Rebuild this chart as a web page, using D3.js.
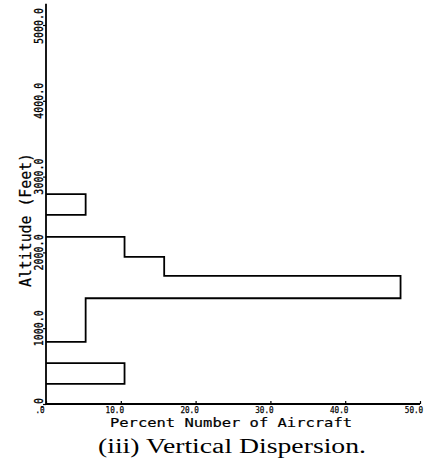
<!DOCTYPE html>
<html>
<head>
<meta charset="utf-8">
<script src="https://cdn.jsdelivr.net/npm/d3@7"></script>
<style>
  html, body { margin: 0; padding: 0; background: #fff; }
  svg { display: block; }
</style>
</head>
<body>
<script>
// ---- data ----
const binLow   = [265, 820, 1110, 1395, 1690, 1940, 2495];   // altitude, feet
const binHigh  = [540, 1110, 1395, 1690, 1940, 2205, 2770];
const percent  = [10.5, 5.3, 5.3, 47.4, 15.8, 10.5, 5.3];     // percent number of aircraft
const xTicks   = [0, 10, 20, 30, 40, 50];
const xTickLabels = [".0", "10.0", "20.0", "30.0", "40.0", "50.0"];
const yTicks   = [0, 1000, 2000, 3000, 4000, 5000];
const yTickLabels = [".0", "1000.0", "2000.0", "3000.0", "4000.0", "5000.0"];
const xTitle = "Percent Number of Aircraft";
const yTitle = "Altitude  (Feet)";
const caption = "(iii)  Vertical Dispersion.";

const W = 445, H = 471;
const svg = d3.select("body").append("svg").attr("width", W).attr("height", H);

const x = d3.scaleLinear().domain([0, 50]).range([46, 420]);
const y = d3.scaleLinear().domain([0, 5000]).range([404, 25]);

const plotFont = "'DejaVu Sans Mono', 'Liberation Mono', monospace";

// axes lines
svg.append("line")
  .attr("x1", x(0)).attr("x2", x(0))
  .attr("y1", y(0)).attr("y2", y(5280))
  .attr("stroke", "#000").attr("stroke-width", 1.8);
svg.append("line")
  .attr("x1", x(0)).attr("x2", x(50))
  .attr("y1", y(0)).attr("y2", y(0))
  .attr("stroke", "#000").attr("stroke-width", 1.8);

// x ticks
const xAxis = d3.axisBottom(x).tickValues(xTicks).tickSize(-3).tickFormat(() => "");
svg.append("g").attr("transform", `translate(0,${y(0)})`).call(xAxis)
  .call(g => g.select(".domain").remove())
  .call(g => g.selectAll("line").attr("stroke", "#000").attr("stroke-width", 1.2));

svg.selectAll(".xlab").data(xTicks).enter().append("text")
  .attr("class", "xlab")
  .attr("x", d => x(d) - 6)
  .attr("y", 412.5)
  .attr("text-anchor", "middle")
  .attr("font-family", plotFont)
  .attr("font-size", 9.5)
  .attr("stroke", "#000").attr("stroke-width", 0.25)
  .attr("textLength", (d, i) => xTickLabels[i].length * 4.6)
  .attr("lengthAdjust", "spacingAndGlyphs")
  .text((d, i) => xTickLabels[i]);

// y ticks
const yAxis = d3.axisLeft(y).tickValues(yTicks).tickSize(3).tickFormat(() => "");
svg.append("g").attr("transform", `translate(${x(0)},0)`).call(yAxis)
  .call(g => g.select(".domain").remove())
  .call(g => g.selectAll("line").attr("stroke", "#000").attr("stroke-width", 1.2));

svg.selectAll(".ylab").data(yTicks).enter().append("text")
  .attr("class", "ylab")
  .attr("transform", d => `translate(43,${Math.max(y(d), 26)}) rotate(-90) scale(1,1.3)`)
  .attr("text-anchor", "middle")
  .attr("font-family", plotFont)
  .attr("font-size", 10)
  .attr("stroke", "#000").attr("stroke-width", 0.25)
  .text((d, i) => yTickLabels[i]);

// histogram outline: group contiguous bins
const groups = [];
binLow.forEach((lo, i) => {
  const last = groups[groups.length - 1];
  if (last && binHigh[last[last.length - 1]] === lo) last.push(i);
  else groups.push([i]);
});
const line = d3.line().x(d => x(d[0])).y(d => y(d[1]));
groups.forEach(g => {
  const pts = [[0, binLow[g[0]]]];
  g.forEach(i => {
    pts.push([percent[i], binLow[i]]);
    pts.push([percent[i], binHigh[i]]);
  });
  pts.push([0, binHigh[g[g.length - 1]]]);
  svg.append("path")
    .attr("d", line(pts))
    .attr("fill", "none")
    .attr("stroke", "#000")
    .attr("stroke-width", 1.8)
    .attr("stroke-linejoin", "miter");
});

// titles
svg.append("text")
  .attr("x", 231).attr("y", 426.5)
  .attr("text-anchor", "middle")
  .attr("font-family", plotFont)
  .attr("font-size", 13)
  .attr("stroke", "#000").attr("stroke-width", 0.2)
  .attr("textLength", 242)
  .attr("lengthAdjust", "spacingAndGlyphs")
  .text(xTitle);

svg.append("text")
  .attr("transform", `translate(31,220) rotate(-90)`)
  .attr("text-anchor", "middle")
  .attr("font-family", plotFont)
  .attr("font-size", 15.5)
  .attr("stroke", "#000").attr("stroke-width", 0.2)
  .attr("textLength", 134)
  .attr("lengthAdjust", "spacingAndGlyphs")
  .text(yTitle);

svg.append("text")
  .attr("x", 232).attr("y", 453)
  .attr("text-anchor", "middle")
  .attr("font-family", "'Liberation Serif', 'DejaVu Serif', serif")
  .attr("font-size", 20)
  .attr("textLength", 268)
  .attr("lengthAdjust", "spacingAndGlyphs")
  .text(caption);
</script>
</body>
</html>
